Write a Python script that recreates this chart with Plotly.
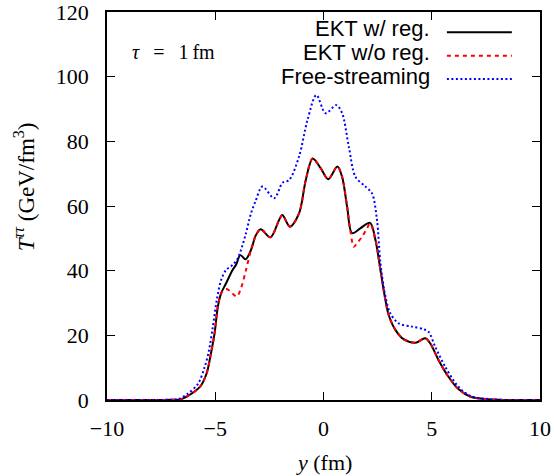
import plotly.graph_objects as go

# Energy density profile T^{tautau}(y) at tau = 1 fm
x_reg = [-10, -8, -7, -6.6, -6.2, -5.7, -5.4, -5.2, -5.03, -4.88, -4.73, -4.5, -4.2, -4.04,
         -3.84, -3.6, -3.35, -3.12, -2.9, -2.45, -2.05, -1.9, -1.55, -1.13, -0.82, -0.5,
         -0.13, 0.22, 0.64, 0.86, 1.09, 1.32, 1.7, 2.15, 2.4, 2.63, 2.86, 3.01, 3.32, 3.7,
         4.24, 4.7, 4.93, 5.31, 5.77, 6.23, 6.8, 7.6, 8.5, 10]
t_reg = [0, 0, 0.05, 0.2, 1.5, 4.1, 8.2, 14.4, 20.7, 28.9, 33, 36.1, 40.2, 41.8,
         44.8, 43.5, 46.4, 51, 52.8, 50.3, 55.7, 57.2, 53.6, 57.7, 68, 74.7,
         71.7, 68.3, 72.2, 69, 59.8, 51.6, 53.1, 54.8, 49.5, 40.2, 30.9, 26.3, 21.7, 18.8,
         17.7, 19.1, 17.5, 12.4, 7.2, 3.4, 1.0, 0.2, 0, 0]

x_noreg = [-10, -8, -7, -6.6, -6.2, -5.7, -5.4, -5.2, -5.03, -4.88, -4.73, -4.5, -4.34, -4.01,
           -3.81, -3.58, -3.35, -3.12, -2.9, -2.45, -2.05, -1.9, -1.55, -1.13, -0.82, -0.5,
           -0.13, 0.22, 0.64, 0.86, 1.09, 1.25, 1.4, 1.55, 1.78, 2.01, 2.15, 2.4, 2.63, 2.86,
           3.01, 3.32, 3.7, 4.24, 4.7, 4.93, 5.31, 5.77, 6.23, 6.8, 7.6, 8.5, 10]
t_noreg = [0, 0, 0.05, 0.2, 1.5, 4.1, 8.2, 14.4, 20.7, 28.9, 33, 34.3, 33.8, 32,
           34.6, 40.2, 46.4, 51, 52.8, 50.3, 55.7, 57.2, 53.6, 57.7, 68, 74.7,
           71.7, 68.3, 72.2, 69, 59.8, 52, 47.4, 48.5, 50.5, 53.1, 54.6, 49.5, 40.2, 30.9,
           26.3, 21.7, 18.8, 17.7, 19.1, 17.5, 12.4, 7.2, 3.4, 1.0, 0.2, 0, 0]

x_fs = [-10, -8, -7, -6.7, -6.3, -5.8, -5.5, -5.3, -5.11, -4.93, -4.73, -4.5, -4.19, -3.96,
        -3.81, -3.58, -3.35, -3.15, -2.82, -2.28, -1.89, -1.59, -1.13, -0.74, -0.33, 0.1,
        0.59, 0.86, 1.17, 1.48, 1.94, 2.24, 2.47, 2.63, 2.86, 3.09, 3.47, 4.09, 4.62, 4.85,
        5.16, 5.62, 6.23, 6.8, 7.6, 8.5, 10]
t_fs = [0, 0, 0.1, 0.3, 1.8, 5, 10, 15, 22.7, 30.9, 37.1, 40.2, 41.8, 43.8,
        46.4, 51.6, 57.7, 61.3, 66, 62.4, 67.2, 68, 75.3, 86.6, 94.3, 88.7,
        91.2, 88.7, 78.3, 69, 66, 63.9, 55.7, 42.3, 32, 26.8, 23.7, 22.7, 21.9, 21.1,
        16.5, 10.3, 4.1, 1.2, 0.3, 0, 0]

x_ticks = [-10, -5, 0, 5, 10]
y_ticks = [0, 20, 40, 60, 80, 100, 120]

series = [
    ("EKT w/ reg.", x_reg, t_reg, "black", "solid"),
    ("EKT w/o reg.", x_noreg, t_noreg, "red", "4px,4px"),
    ("Free-streaming", x_fs, t_fs, "blue", "2px,2.5px"),
]

serif = "Liberation Serif"
sans = "Liberation Sans"

fig = go.Figure()
for name, xs, ys, color, dash in series:
    fig.add_trace(go.Scatter(
        x=xs, y=ys, mode="lines", name=name, showlegend=False,
        line=dict(color=color, width=2, dash=dash, shape="spline", smoothing=0.9),
    ))

# Hand-built key: label on the left, line sample on the right
key_text_y = [0.957, 0.895, 0.835]
key_line_y = [0.948, 0.887, 0.827]
for (name, xs, ys, color, dash), ty, ly in zip(series, key_text_y, key_line_y):
    fig.add_annotation(
        xref="paper", yref="paper", x=0.751, y=ty, text=name, showarrow=False,
        xanchor="right", yanchor="middle", font=dict(family=sans, size=22, color="black"),
    )
    fig.add_shape(
        type="line", xref="paper", yref="paper", x0=0.785, x1=0.935, y0=ly, y1=ly,
        line=dict(color=color, width=2, dash=dash),
    )

fig.add_annotation(
    xref="paper", yref="paper", x=0.053, y=0.897,
    text="<i>τ</i>\u2002\u2009=\u2002\u20091\u2009fm",
    showarrow=False, xanchor="left", yanchor="middle",
    font=dict(family=serif, size=20, color="black"),
)
fig.add_annotation(
    xref="paper", yref="paper", x=-0.19, y=0.55,
    text="<i>T</i><sup><i>ττ</i></sup> (GeV/fm<sup>3</sup>)",
    showarrow=False, textangle=-90, xanchor="center", yanchor="middle",
    font=dict(family=serif, size=23, color="black"),
)
fig.add_annotation(
    xref="paper", yref="paper", x=0.501, y=-0.162, text="<i>y</i> (fm)",
    showarrow=False, xanchor="center", yanchor="middle",
    font=dict(family=serif, size=22, color="black"),
)

axis_common = dict(
    showline=True, linecolor="black", linewidth=1.5, mirror="ticks",
    ticks="inside", ticklen=8, tickwidth=1.2, tickcolor="black",
    showgrid=False, zeroline=False, automargin=False, ticklabeloverflow="allow",
    tickfont=dict(family=serif, size=22, color="black"),
)
fig.update_xaxes(range=[-10, 10], tickvals=x_ticks, ticklabelstandoff=8, **axis_common)
fig.update_yaxes(range=[0, 120], tickvals=y_ticks, ticklabelstandoff=12, **axis_common)

fig.update_layout(
    width=554, height=476,
    margin=dict(l=107, r=14, t=12, b=76),
    paper_bgcolor="white", plot_bgcolor="white",
)

fig.write_html("out.html")
